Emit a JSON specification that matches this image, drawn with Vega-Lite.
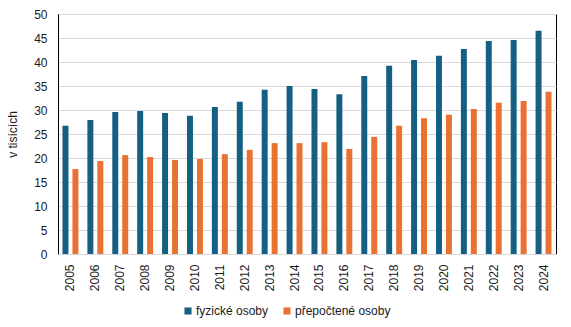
{
  "$schema": "https://vega.github.io/schema/vega-lite/v6.json",
  "width": 498,
  "height": 240,
  "autosize": "none",
  "padding": {"left": 58, "top": 14, "right": 15, "bottom": 73},
  "background": "white",
  "config": {
    "font": "Liberation Sans",
    "view": {"stroke": "#000000", "strokeWidth": 1},
    "axis": {"labelFont": "Liberation Sans", "titleFont": "Liberation Sans", "labelColor": "#1a1a1a", "titleColor": "#1a1a1a"},
    "legend": {"labelFont": "Liberation Sans"}
  },
  "data": {
    "values": [
      {"rok": "2005", "typ": "fyzické osoby", "hodnota": 26.7},
      {"rok": "2006", "typ": "fyzické osoby", "hodnota": 27.9},
      {"rok": "2007", "typ": "fyzické osoby", "hodnota": 29.6},
      {"rok": "2008", "typ": "fyzické osoby", "hodnota": 29.8},
      {"rok": "2009", "typ": "fyzické osoby", "hodnota": 29.4},
      {"rok": "2010", "typ": "fyzické osoby", "hodnota": 28.8},
      {"rok": "2011", "typ": "fyzické osoby", "hodnota": 30.6},
      {"rok": "2012", "typ": "fyzické osoby", "hodnota": 31.7},
      {"rok": "2013", "typ": "fyzické osoby", "hodnota": 34.2},
      {"rok": "2014", "typ": "fyzické osoby", "hodnota": 35.0},
      {"rok": "2015", "typ": "fyzické osoby", "hodnota": 34.4},
      {"rok": "2016", "typ": "fyzické osoby", "hodnota": 33.3},
      {"rok": "2017", "typ": "fyzické osoby", "hodnota": 37.1},
      {"rok": "2018", "typ": "fyzické osoby", "hodnota": 39.2},
      {"rok": "2019", "typ": "fyzické osoby", "hodnota": 40.4},
      {"rok": "2020", "typ": "fyzické osoby", "hodnota": 41.3},
      {"rok": "2021", "typ": "fyzické osoby", "hodnota": 42.7},
      {"rok": "2022", "typ": "fyzické osoby", "hodnota": 44.4},
      {"rok": "2023", "typ": "fyzické osoby", "hodnota": 44.6},
      {"rok": "2024", "typ": "fyzické osoby", "hodnota": 46.5},
      {"rok": "2005", "typ": "přepočtené osoby", "hodnota": 17.7},
      {"rok": "2006", "typ": "přepočtené osoby", "hodnota": 19.4},
      {"rok": "2007", "typ": "přepočtené osoby", "hodnota": 20.6},
      {"rok": "2008", "typ": "přepočtené osoby", "hodnota": 20.2},
      {"rok": "2009", "typ": "přepočtené osoby", "hodnota": 19.6},
      {"rok": "2010", "typ": "přepočtené osoby", "hodnota": 19.8},
      {"rok": "2011", "typ": "přepočtené osoby", "hodnota": 20.8},
      {"rok": "2012", "typ": "přepočtené osoby", "hodnota": 21.7},
      {"rok": "2013", "typ": "přepočtené osoby", "hodnota": 23.1},
      {"rok": "2014", "typ": "přepočtené osoby", "hodnota": 23.1},
      {"rok": "2015", "typ": "přepočtené osoby", "hodnota": 23.3},
      {"rok": "2016", "typ": "přepočtené osoby", "hodnota": 21.9},
      {"rok": "2017", "typ": "přepočtené osoby", "hodnota": 24.4},
      {"rok": "2018", "typ": "přepočtené osoby", "hodnota": 26.7},
      {"rok": "2019", "typ": "přepočtené osoby", "hodnota": 28.3},
      {"rok": "2020", "typ": "přepočtené osoby", "hodnota": 29.0},
      {"rok": "2021", "typ": "přepočtené osoby", "hodnota": 30.2},
      {"rok": "2022", "typ": "přepočtené osoby", "hodnota": 31.5},
      {"rok": "2023", "typ": "přepočtené osoby", "hodnota": 31.9},
      {"rok": "2024", "typ": "přepočtené osoby", "hodnota": 33.8}
    ]
  },
  "mark": {"type": "bar"},
  "encoding": {
    "x": {
      "field": "rok",
      "type": "nominal",
      "scale": {"paddingInner": 0.36, "paddingOuter": 0.18},
      "axis": {
        "title": null,
        "labelAngle": -90,
        "labelFontSize": 12,
        "ticks": false,
        "labelPadding": 10,
        "domainColor": "#D9D9D9",
        "domainWidth": 1,
        "zindex": 1
      }
    },
    "xOffset": {
      "field": "typ",
      "type": "nominal",
      "scale": {"paddingInner": 0.4, "paddingOuter": 0}
    },
    "y": {
      "field": "hodnota",
      "type": "quantitative",
      "scale": {"domain": [0, 50], "nice": false},
      "axis": {
        "title": "v tisících",
        "titleFontSize": 12,
        "titleFontWeight": "normal",
        "titlePadding": 14,
        "values": [0, 5, 10, 15, 20, 25, 30, 35, 40, 45, 50],
        "labelFontSize": 12,
        "ticks": false,
        "labelPadding": 11,
        "domainColor": "#000000",
        "gridColor": "#D9D9D9",
        "gridWidth": 1
      }
    },
    "color": {
      "field": "typ",
      "type": "nominal",
      "scale": {"domain": ["fyzické osoby", "přepočtené osoby"], "range": ["#156082", "#E97132"]},
      "legend": {
        "title": null,
        "orient": "none",
        "direction": "horizontal",
        "legendX": 124,
        "legendY": 291,
        "symbolType": "square",
        "symbolSize": 50,
        "symbolStrokeWidth": 0,
        "labelFontSize": 12,
        "labelColor": "#1a1a1a",
        "labelOffset": 2,
        "columnPadding": 12
      }
    }
  }
}
